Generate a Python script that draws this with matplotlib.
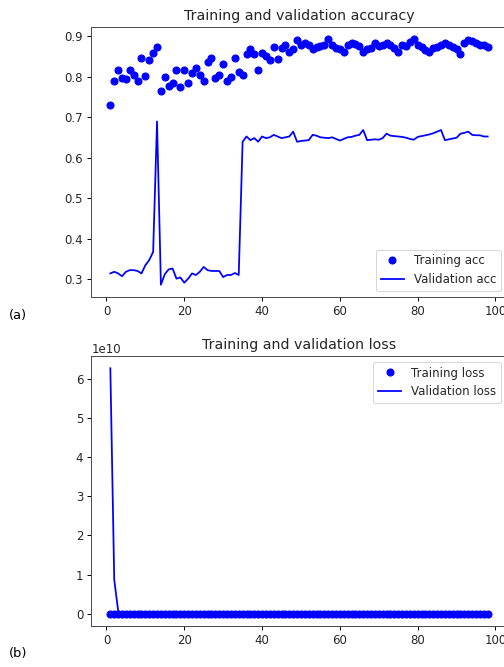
import matplotlib
matplotlib.use("Agg")
import matplotlib.pyplot as plt

# 训练准确率 (epoch 1..98)
train_acc = [
    0.730, 0.790, 0.818, 0.797, 0.795, 0.818, 0.805, 0.789, 0.846, 0.803,
    0.842, 0.859, 0.874, 0.766, 0.800, 0.778, 0.785, 0.818, 0.776, 0.818,
    0.786, 0.809, 0.822, 0.805, 0.789, 0.838, 0.846, 0.797, 0.805, 0.832,
    0.789, 0.801, 0.846, 0.813, 0.805, 0.856, 0.869, 0.856, 0.818, 0.859,
    0.851, 0.842, 0.875, 0.845, 0.872, 0.878, 0.862, 0.870, 0.892, 0.880,
    0.884, 0.878, 0.870, 0.875, 0.876, 0.879, 0.893, 0.878, 0.872, 0.870,
    0.862, 0.880, 0.885, 0.882, 0.876, 0.862, 0.870, 0.872, 0.885, 0.876,
    0.880, 0.884, 0.878, 0.872, 0.862, 0.880, 0.876, 0.886, 0.893, 0.878,
    0.875, 0.866, 0.862, 0.872, 0.875, 0.880, 0.884, 0.878, 0.874, 0.868,
    0.856, 0.885, 0.892, 0.890, 0.884, 0.880, 0.878, 0.874,
]

# 验证准确率
val_acc = [
    0.315, 0.319, 0.315, 0.308, 0.319, 0.323, 0.323, 0.321, 0.315, 0.335,
    0.348, 0.368, 0.690, 0.287, 0.313, 0.325, 0.327, 0.302, 0.305, 0.292,
    0.302, 0.315, 0.311, 0.319, 0.331, 0.323, 0.321, 0.321, 0.321, 0.306,
    0.311, 0.311, 0.316, 0.311, 0.640, 0.653, 0.644, 0.649, 0.640, 0.653,
    0.649, 0.651, 0.657, 0.653, 0.649, 0.651, 0.653, 0.665, 0.640, 0.642,
    0.643, 0.644, 0.657, 0.655, 0.651, 0.650, 0.649, 0.651, 0.647, 0.643,
    0.647, 0.651, 0.652, 0.655, 0.657, 0.669, 0.644, 0.645, 0.646, 0.645,
    0.649, 0.660, 0.655, 0.654, 0.653, 0.652, 0.650, 0.647, 0.645, 0.652,
    0.654, 0.656, 0.658, 0.661, 0.665, 0.669, 0.644, 0.646, 0.648, 0.650,
    0.660, 0.662, 0.665, 0.657, 0.656, 0.656, 0.653, 0.653,
]

# 损失 (单位 1e10, 第3个 epoch 之后都接近 0)
train_loss = [
    0, 0, 0, 0, 0, 0, 0, 0, 0, 0, 0, 0, 0, 0, 0, 0, 0, 0, 0, 0,
    0, 0, 0, 0, 0, 0, 0, 0, 0, 0, 0, 0, 0, 0, 0, 0, 0, 0, 0, 0,
    0, 0, 0, 0, 0, 0, 0, 0, 0, 0, 0, 0, 0, 0, 0, 0, 0, 0, 0, 0,
    0, 0, 0, 0, 0, 0, 0, 0, 0, 0, 0, 0, 0, 0, 0, 0, 0, 0, 0, 0,
    0, 0, 0, 0, 0, 0, 0, 0, 0, 0, 0, 0, 0, 0, 0, 0, 0, 0,
]
val_loss = [
    6.27, 0.87, 0.08, 0, 0, 0, 0, 0, 0, 0, 0, 0, 0, 0, 0, 0, 0, 0, 0, 0,
    0, 0, 0, 0, 0, 0, 0, 0, 0, 0, 0, 0, 0, 0, 0, 0, 0, 0, 0, 0,
    0, 0, 0, 0, 0, 0, 0, 0, 0, 0, 0, 0, 0, 0, 0, 0, 0, 0, 0, 0,
    0, 0, 0, 0, 0, 0, 0, 0, 0, 0, 0, 0, 0, 0, 0, 0, 0, 0, 0, 0,
    0, 0, 0, 0, 0, 0, 0, 0, 0, 0, 0, 0, 0, 0, 0, 0, 0, 0,
]
loss_scale = 1e10

epochs = list(range(1, len(train_acc) + 1))

# 截图大约放大了 1.18 倍
s = 1.18
plt.rcParams.update({
    'font.size': 10 * s,
    'axes.titlesize': 12 * s,
    'axes.titlepad': 6 * s,
    'xtick.major.size': 3.5 * s,
    'ytick.major.size': 3.5 * s,
    'xtick.major.pad': 3.5 * s,
    'ytick.major.pad': 3.5 * s,
    'axes.linewidth': 0.8 * s,
    'xtick.major.width': 0.8 * s,
    'ytick.major.width': 0.8 * s,
    'text.color': '#262626',
    'xtick.labelcolor': '#262626',
    'ytick.labelcolor': '#262626',
    'axes.edgecolor': '#444444',
})

fig = plt.figure(figsize=(7.0, 667 / 72), dpi=72)

# 准确率曲线
ax1 = fig.add_axes([0.1815, 0.5547, 0.8236, 0.4048])
ax1.plot(epochs, train_acc, 'bo', markersize=6 * s, label='Training acc')
ax1.plot(epochs, val_acc, 'b', linewidth=1.5 * s, label='Validation acc')
ax1.set_title('Training and validation accuracy')
ax1.legend(loc='lower right')

# 损失曲线
ax2 = fig.add_axes([0.1815, 0.0615, 0.8236, 0.4048])
ax2.plot(epochs, [v * loss_scale for v in train_loss], 'bo', markersize=6 * s,
         label='Training loss')
ax2.plot(epochs, [v * loss_scale for v in val_loss], 'b', linewidth=1.5 * s,
         label='Validation loss')
ax2.set_title('Training and validation loss')
ax2.legend(loc='upper right')

fig.text(18 / 504, 1 - 315 / 667, '(a)', fontsize=13, color='black',
         ha='center', va='center')
fig.text(18 / 504, 1 - 653 / 667, '(b)', fontsize=13, color='black',
         ha='center', va='center')

fig.savefig('out.png', dpi=72)
plt.close(fig)
